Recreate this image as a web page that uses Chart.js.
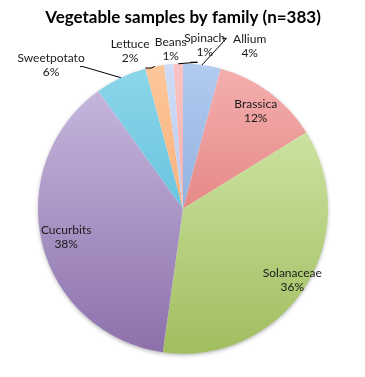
<!DOCTYPE html>
<html>
<head>
<meta charset="utf-8">
<script src="https://cdn.jsdelivr.net/npm/chart.js@4.4.1/dist/chart.umd.min.js"></script>
<style>
  html, body { margin: 0; padding: 0; background: #ffffff; }
  #wrap { width: 365px; height: 377px; }
</style>
</head>
<body>
<div id="wrap"><canvas id="pie-chart"></canvas></div>
<script>
// data (n=383)
const families = ['Allium', 'Brassica', 'Solanaceae', 'Cucurbits', 'Sweetpotato', 'Lettuce', 'Beans', 'Spinach'];
const samples = [16, 46, 138, 145, 22, 8, 4, 4];
const percentLabels = ['4%', '12%', '36%', '38%', '6%', '2%', '1%', '1%'];
// light (top) / dark (bottom) gradient stops per slice
const lightColors = ['#b2cbf0', '#f5b0b0', '#d9edb5', '#cbbde2', '#8cd6ea', '#fcc79c', '#cfdcf6', '#f9c2c2'];
const darkColors = ['#7199cf', '#d5625f', '#a0be5f', '#8c70ab', '#47b3d2', '#f59d5a', '#a9bde8', '#f0a0a0'];

// label placement: inside labels use a radius fraction, outside ones an offset from centre (in radii)
const labelPlacement = [
    { out: true, dx: 0.46, dy: -1.12, line: [[0.30, -1.175], [0.27, -1.175]] },
    { out: false, f: 0.84 },
    { out: false, f: 0.9 },
    { out: false, f: 0.83 },
    { out: true, dx: -0.91, dy: -0.99, line: [[-0.69, -0.98], [-0.71, -0.98]] },
    { out: true, dx: -0.365, dy: -1.085, line: [[-0.22, -0.97], [-0.26, -0.97]] },
    { out: true, dx: -0.085, dy: -1.10, line: null },
    { out: true, dx: 0.15, dy: -1.125, line: [[0.1, -1.01], [0.05, -1.01]] }
];

const labelPlugin = {
    id: 'sliceLabels',
    beforeDatasetsDraw(chart) {
        const ctx = chart.ctx;
        ctx.save();
        ctx.shadowColor = 'rgba(0,0,0,0.35)';
        ctx.shadowBlur = 4;
        ctx.shadowOffsetY = 1.5;
        const arc = chart.getDatasetMeta(0).data[0];
        ctx.beginPath();
        ctx.arc(arc.x, arc.y, arc.outerRadius - 0.5, 0, Math.PI * 2);
        ctx.fillStyle = '#ffffff';
        ctx.fill();
        ctx.restore();
    },
    afterDatasetsDraw(chart) {
        const ctx = chart.ctx;
        const arcs = chart.getDatasetMeta(0).data;
        ctx.save();
        ctx.font = '12px Lato, sans-serif';
        ctx.fillStyle = '#1a1a1a';
        ctx.textAlign = 'center';
        ctx.textBaseline = 'middle';
        ctx.strokeStyle = '#000000';
        ctx.lineWidth = 1;
        arcs.forEach((a, i) => {
            const p = labelPlacement[i];
            const mid = (a.startAngle + a.endAngle) / 2;
            const r = a.outerRadius;
            let x, y;
            if (!p.out) {
                x = a.x + Math.cos(mid) * r * p.f;
                y = a.y + Math.sin(mid) * r * p.f;
            } else {
                x = a.x + p.dx * r;
                y = a.y + p.dy * r;
                if (p.line) {
                    ctx.beginPath();
                    ctx.moveTo(a.x + Math.cos(mid) * r, a.y + Math.sin(mid) * r);
                    ctx.lineTo(a.x + p.line[0][0] * r, a.y + p.line[0][1] * r);
                    ctx.lineTo(a.x + p.line[1][0] * r, a.y + p.line[1][1] * r);
                    ctx.stroke();
                }
            }
            ctx.fillText(families[i], x, y - 7);
            ctx.fillText(percentLabels[i], x, y + 7);
        });
        ctx.restore();
    }
};

function sliceFill(context, list, other) {
    const chart = context.chart;
    const area = chart.chartArea;
    const i = context.dataIndex;
    if (!area) return list[i];
    const g = chart.ctx.createLinearGradient(0, area.top, 0, area.bottom);
    g.addColorStop(0, list[i]);
    g.addColorStop(1, other[i]);
    return g;
}

const pieCtx = document.getElementById('pie-chart');
new Chart(pieCtx, {
    type: 'pie',
    data: {
        labels: families,
        datasets: [{
            data: samples,
            backgroundColor: ctx => sliceFill(ctx, lightColors, darkColors),
            borderWidth: 0
        }]
    },
    options: {
        responsive: true,
        maintainAspectRatio: false,
        animation: false,
        layout: {
            padding: { left: 38, right: 37, top: 0, bottom: 23 }
        },
        plugins: {
            legend: { display: false },
            tooltip: { enabled: false },
            title: {
                display: true,
                text: 'Vegetable samples by family (n=383)',
                color: '#000000',
                font: { family: 'Lato, sans-serif', size: 17, weight: 'bold' },
                padding: { top: 7, bottom: 36 }
            }
        }
    },
    plugins: [labelPlugin]
});
</script>
</body>
</html>
